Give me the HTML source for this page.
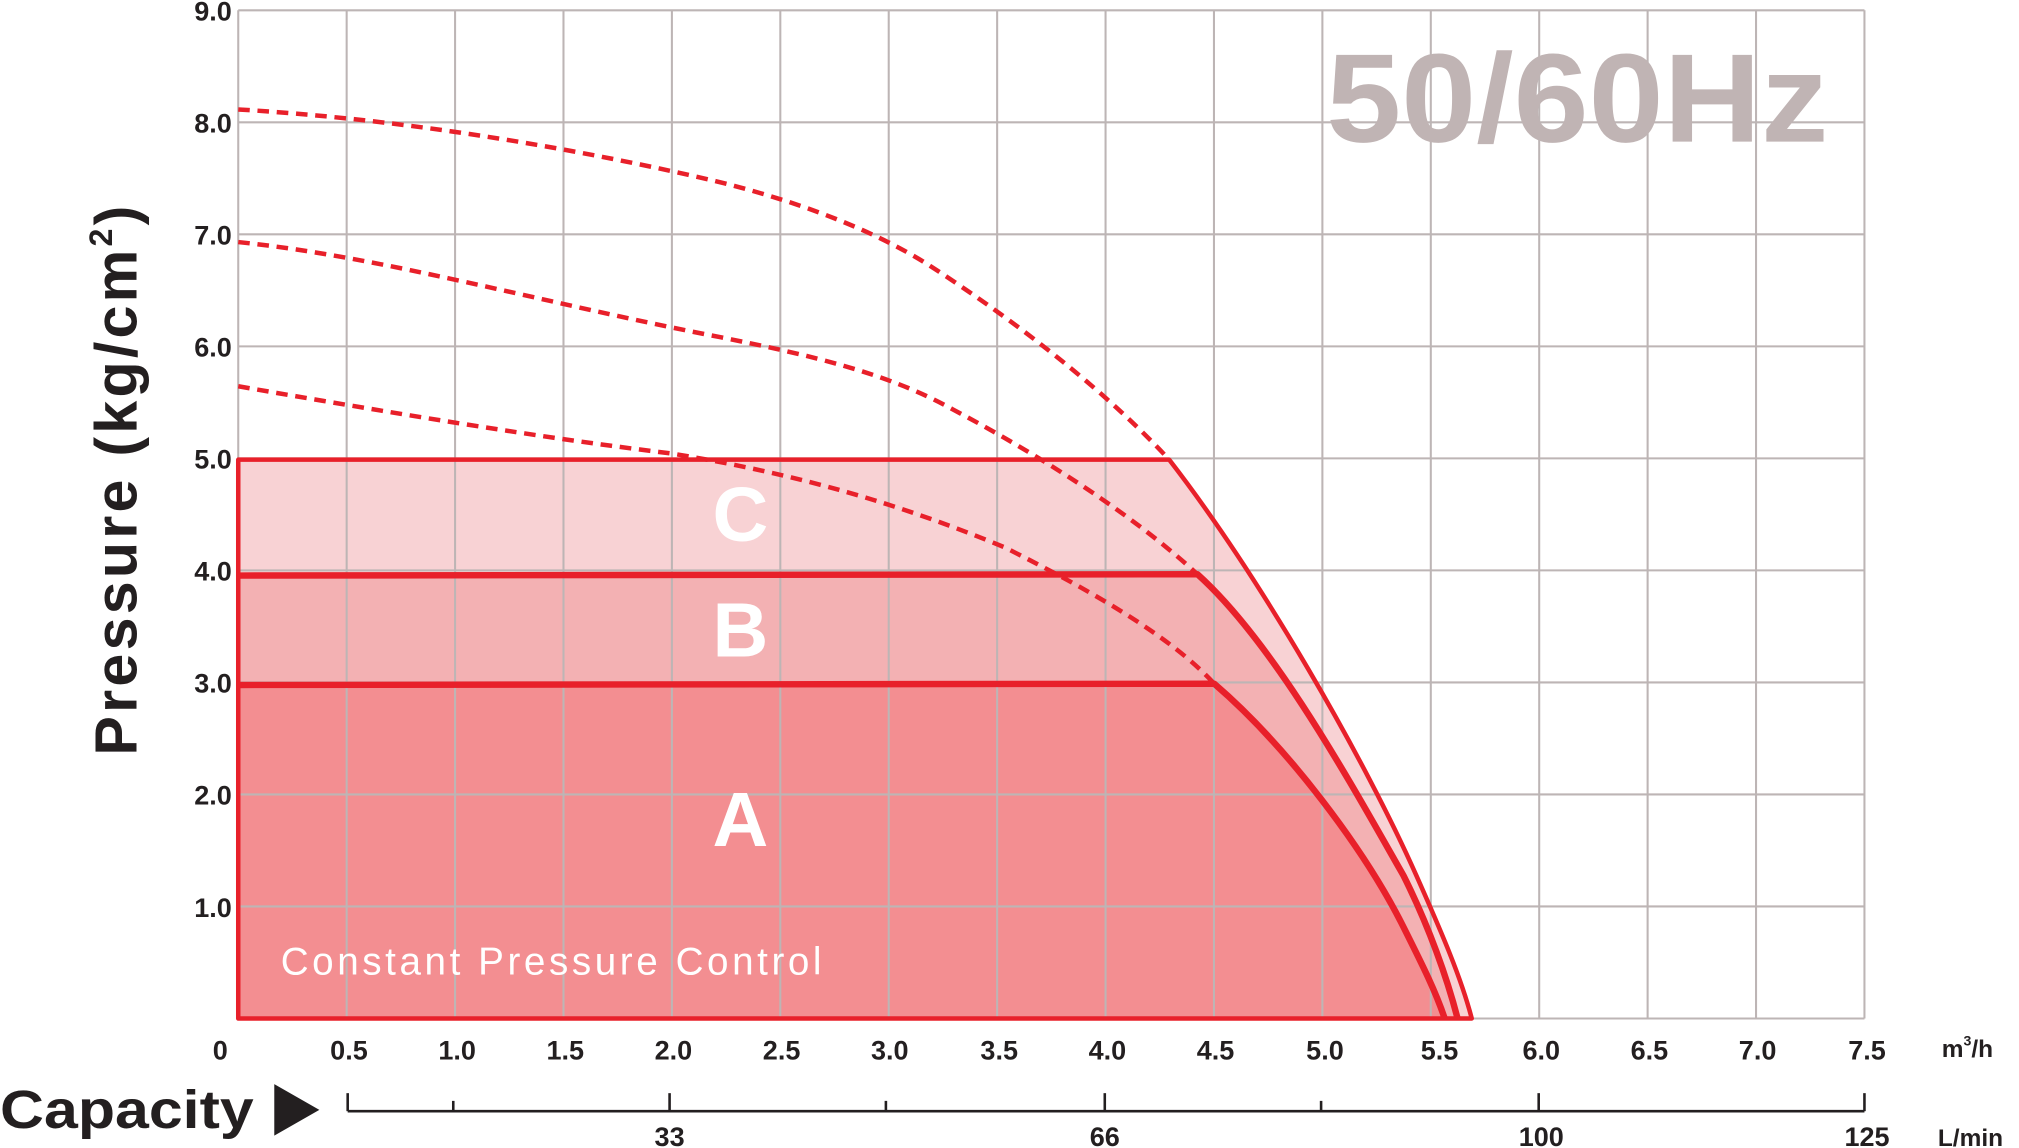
<!DOCTYPE html>
<html><head><meta charset="utf-8"><style>
html,body{margin:0;padding:0;background:#fff;}
svg{display:block;}
text{font-family:"Liberation Sans",Arial,sans-serif;}
</style></head><body>
<svg width="2019" height="1148" viewBox="0 0 1568 891.6" xmlns="http://www.w3.org/2000/svg">
<rect width="1568" height="891.6" fill="#fff"/>
<!-- regions -->
<path d="M185,791 L185,357 L908,357 C980,450 1060,590 1100,680 C1120,725 1135,760 1143,791 Z" fill="#f8d2d4"/>
<path d="M185,791 L185,447 L930,446 C990,500 1050,610 1090,680 C1110,720 1124,760 1132,791 Z" fill="#f3b1b3"/>
<path d="M185,791 L185,532 L943,531 C1000,580 1060,660 1090,720 C1105,750 1115,770 1122,791 Z" fill="#f38e91"/>
<!-- grid -->
<g stroke="#bdb5b5" stroke-width="1.6" fill="none">
<line x1="185" y1="8" x2="1448" y2="8"/><line x1="185" y1="95" x2="1448" y2="95"/>
<line x1="185" y1="182" x2="1448" y2="182"/><line x1="185" y1="269" x2="1448" y2="269"/>
<line x1="185" y1="356" x2="1448" y2="356"/><line x1="185" y1="443" x2="1448" y2="443"/>
<line x1="185" y1="530" x2="1448" y2="530"/><line x1="185" y1="617" x2="1448" y2="617"/>
<line x1="185" y1="704" x2="1448" y2="704"/><line x1="185" y1="791" x2="1448" y2="791"/>
<line x1="185" y1="8" x2="185" y2="791"/><line x1="269.2" y1="8" x2="269.2" y2="791"/>
<line x1="353.4" y1="8" x2="353.4" y2="791"/><line x1="437.6" y1="8" x2="437.6" y2="791"/>
<line x1="521.8" y1="8" x2="521.8" y2="791"/><line x1="606" y1="8" x2="606" y2="791"/>
<line x1="690.2" y1="8" x2="690.2" y2="791"/><line x1="774.4" y1="8" x2="774.4" y2="791"/>
<line x1="858.6" y1="8" x2="858.6" y2="791"/><line x1="942.8" y1="8" x2="942.8" y2="791"/>
<line x1="1027" y1="8" x2="1027" y2="791"/><line x1="1111.2" y1="8" x2="1111.2" y2="791"/>
<line x1="1195.4" y1="8" x2="1195.4" y2="791"/><line x1="1279.6" y1="8" x2="1279.6" y2="791"/>
<line x1="1363.8" y1="8" x2="1363.8" y2="791"/><line x1="1448" y1="8" x2="1448" y2="791"/>
</g>
<!-- outlines -->
<g stroke="#e8202a" fill="none" stroke-linejoin="round">
<path d="M185,791 L185,357 L908,357 C980,450 1060,590 1100,680 C1120,725 1135,760 1143,791 Z" stroke-width="3.5"/>
<path d="M185,447 L930,446 C990,500 1050,610 1090,680 C1110,720 1124,760 1132,791" stroke-width="5"/>
<path d="M185,532 L943,531 C1000,580 1060,660 1090,720 C1105,750 1115,770 1122,791" stroke-width="5"/>
<g stroke-width="3.5" stroke-dasharray="9,6">
<path d="M185,85 C300,92 420,110 540,137 C620,155 680,180 720,205 C790,250 860,305 908,357"/>
<path d="M185,188 C300,200 420,235 560,262 C630,276 690,290 740,318 C810,355 880,400 930,446"/>
<path d="M185,300 C300,320 420,340 520,352 C620,368 700,392 780,425 C850,460 910,495 943,531"/>
</g>
</g>
<!-- labels -->
<g font-weight="bold" font-size="21" fill="#231f20" text-anchor="end">
<text x="180" y="16">9.0</text><text x="180" y="103">8.0</text><text x="180" y="190">7.0</text>
<text x="180" y="277">6.0</text><text x="180" y="364">5.0</text><text x="180" y="451">4.0</text>
<text x="180" y="538">3.0</text><text x="180" y="625">2.0</text><text x="180" y="712">1.0</text>
</g>
<g font-weight="bold" font-size="21" fill="#231f20" text-anchor="middle">
<text x="171" y="823">0</text><text x="271" y="823">0.5</text><text x="355" y="823">1.0</text>
<text x="439" y="823">1.5</text><text x="523" y="823">2.0</text><text x="607" y="823">2.5</text>
<text x="691" y="823">3.0</text><text x="776" y="823">3.5</text><text x="860" y="823">4.0</text>
<text x="944" y="823">4.5</text><text x="1029" y="823">5.0</text><text x="1118" y="823">5.5</text>
<text x="1197" y="823">6.0</text><text x="1281" y="823">6.5</text><text x="1365" y="823">7.0</text>
<text x="1450" y="823">7.5</text>
<text x="520" y="890">33</text><text x="858" y="890">66</text><text x="1197" y="890">100</text><text x="1450" y="890">125</text>
</g>
<text x="1508" y="821" font-weight="bold" font-size="19" fill="#231f20">m<tspan font-size="11" dy="-9">3</tspan><tspan dy="9">/h</tspan></text>
<text x="1505" y="890" font-weight="bold" font-size="19" fill="#231f20">L/min</text>
<g stroke="#231f20" stroke-width="2" fill="none">
<line x1="270" y1="863" x2="1448" y2="863"/>
<line x1="270" y1="849" x2="270" y2="863"/><line x1="352" y1="855" x2="352" y2="863"/>
<line x1="520" y1="849" x2="520" y2="863"/><line x1="688" y1="855" x2="688" y2="863"/>
<line x1="858" y1="849" x2="858" y2="863"/><line x1="1026" y1="855" x2="1026" y2="863"/>
<line x1="1195" y1="849" x2="1195" y2="863"/><line x1="1448" y1="849" x2="1448" y2="863"/>
</g>
<text x="0" y="876" font-weight="bold" font-size="42" fill="#231f20" textLength="197" lengthAdjust="spacingAndGlyphs">Capacity</text>
<path d="M213,842 L248,862 L213,882 Z" fill="#231f20"/>
<text transform="translate(106,372) rotate(-90)" text-anchor="middle" font-weight="bold" font-size="46" letter-spacing="2.5" fill="#231f20">Pressure (kg/cm<tspan font-size="25" dy="-19">2</tspan><tspan dy="19">)</tspan></text>
<text x="1030" y="110" font-weight="bold" font-size="98" fill="#c0b4b4" textLength="390" lengthAdjust="spacingAndGlyphs">50/60Hz</text>
<g font-weight="bold" font-size="60" fill="#fff" text-anchor="middle">
<text x="575" y="420">C</text><text x="575" y="510">B</text><text x="575" y="657">A</text>
</g>
<text x="218" y="757" font-size="30" fill="#fff" textLength="420">Constant Pressure Control</text>
</svg>
</body></html>
